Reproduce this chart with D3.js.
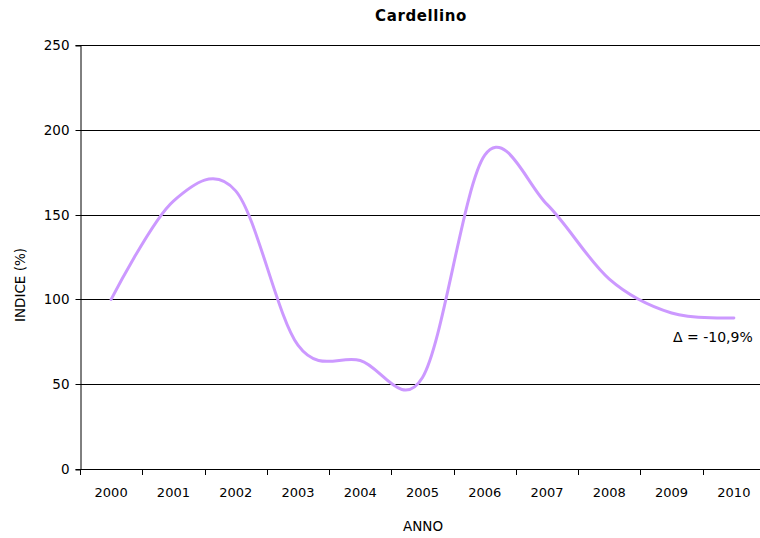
<!DOCTYPE html>
<html>
<head>
<meta charset="utf-8">
<script src="https://cdn.jsdelivr.net/npm/d3@7"></script>
<style>
  html, body { margin: 0; padding: 0; background: #fff; overflow: hidden; }
  svg { display: block; font-family: "DejaVu Sans", Verdana, sans-serif; }
</style>
</head>
<body>
<svg id="chart" width="760" height="538"></svg>
<script>
// Goldfinch population index by year
const years = ["2000","2001","2002","2003","2004","2005","2006","2007","2008","2009","2010"];
const indexValues = [100, 158, 164, 73, 64, 54, 185, 156, 112, 92, 89.1];
const yTicks = [0, 50, 100, 150, 200, 250];
const title = "Cardellino";
const xTitle = "ANNO";
const yTitle = "INDICE (%)";
const changeLabel = "Δ = -10,9%";

const svg = d3.select("#chart");
const plot = { left: 80, top: 45, right: 765, bottom: 469 };

const x = d3.scaleBand().domain(years).range([plot.left, plot.right]).padding(0);
const y = d3.scaleLinear().domain([0, 250]).range([plot.bottom, plot.top]);

// horizontal gridlines
svg.append("g")
  .selectAll("line")
  .data(yTicks.filter(d => d > 0))
  .join("line")
  .attr("x1", plot.left).attr("x2", plot.right)
  .attr("y1", d => Math.round(y(d)) + 0.5).attr("y2", d => Math.round(y(d)) + 0.5)
  .attr("stroke", "#000").attr("stroke-width", 1);

// y axis
const yAxis = svg.append("g")
  .attr("transform", `translate(${plot.left + 0.5},0.5)`)
  .call(d3.axisLeft(y).tickValues(yTicks).tickSize(5).tickPadding(6));
yAxis.select(".domain").attr("stroke", "#000");
yAxis.selectAll(".tick line").attr("stroke", "#000");
yAxis.selectAll(".tick text")
  .attr("font-size", 13.5).attr("fill", "#000")
  .style("font-family", "DejaVu Sans, Verdana, sans-serif");
yAxis.selectAll(".tick").attr("transform", d => `translate(0,${Math.round(y(d))})`);

// x axis: tick marks sit on the category boundaries
const xg = svg.append("g");
xg.append("line")
  .attr("x1", plot.left).attr("x2", plot.right)
  .attr("y1", plot.bottom + 0.5).attr("y2", plot.bottom + 0.5)
  .attr("stroke", "#000");
const boundaries = years.map(d => x(d)).concat([x(years[years.length - 1]) + x.bandwidth()]);
xg.selectAll("line.tk")
  .data(boundaries)
  .join("line")
  .attr("class", "tk")
  .attr("x1", d => Math.round(d) + 0.5).attr("x2", d => Math.round(d) + 0.5)
  .attr("y1", plot.bottom).attr("y2", plot.bottom + 6)
  .attr("stroke", "#000");
xg.selectAll("text")
  .data(years)
  .join("text")
  .attr("x", d => x(d) + x.bandwidth() / 2)
  .attr("y", plot.bottom + 28)
  .attr("text-anchor", "middle")
  .attr("font-size", 13)
  .attr("fill", "#000")
  .text(d => d);

// smoothed index line
const line = d3.line()
  .x((d, i) => x(years[i]) + x.bandwidth() / 2)
  .y(d => y(d))
  .curve(d3.curveCatmullRom.alpha(0));
svg.append("path")
  .datum(indexValues)
  .attr("d", line)
  .attr("fill", "none")
  .attr("stroke", "#CC99FF")
  .attr("stroke-width", 3)
  .attr("stroke-linecap", "round")
  .attr("stroke-linejoin", "round");

// change annotation
svg.append("text")
  .attr("x", 673).attr("y", 342)
  .attr("font-size", 14).attr("fill", "#000")
  .text(changeLabel);

// titles
svg.append("text")
  .attr("x", 421).attr("y", 21)
  .attr("text-anchor", "middle")
  .attr("font-size", 15).attr("font-weight", "bold")
  .attr("letter-spacing", 0.6)
  .text(title);
svg.append("text")
  .attr("x", 423).attr("y", 531)
  .attr("text-anchor", "middle")
  .attr("font-size", 13.5)
  .text(xTitle);
svg.append("text")
  .attr("transform", "translate(25,285) rotate(-90)")
  .attr("text-anchor", "middle")
  .attr("font-size", 13.5)
  .text(yTitle);
</script>
</body>
</html>
